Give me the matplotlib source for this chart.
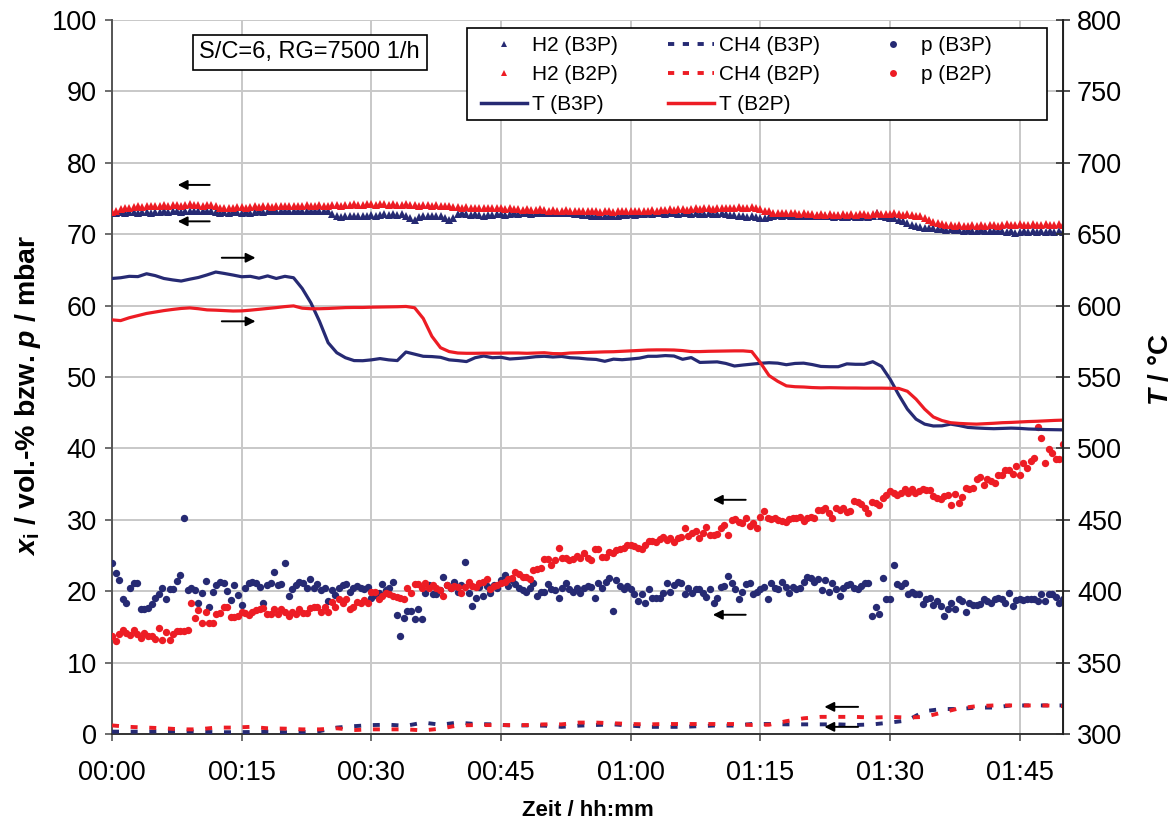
import numpy as np
import matplotlib
matplotlib.use('Agg')
import matplotlib.pyplot as plt
from matplotlib.lines import Line2D
from matplotlib.patches import Rectangle

plt.rcParams['font.family'] = ['Liberation Sans', 'DejaVu Sans']
plt.rcParams['mathtext.fontset'] = 'custom'
plt.rcParams['mathtext.rm'] = 'Liberation Sans'
plt.rcParams['mathtext.it'] = 'Liberation Sans:italic'
plt.rcParams['mathtext.bf'] = 'Liberation Sans:bold'
plt.rcParams['mathtext.bfit'] = 'Liberation Sans:italic:bold'

BLUE = '#262A73'
RED = '#ED1C24'

# ---------------- data ----------------
x_ticks_min = [0, 15, 30, 45, 60, 75, 90, 105]
x_tick_labels = ['00:00', '00:15', '00:30', '00:45', '01:00', '01:15', '01:30', '01:45']
x_max = 110

# H2 in vol.-%, every 0.5 min
h2_b2p = [73.1, 73.3, 73.5, 73.6, 73.7, 73.8, 73.9, 73.8, 73.9, 74.0,
          73.9, 74.0, 74.1, 74.0, 74.1, 74.1, 74.0, 74.1, 74.2, 74.1,
          74.1, 74.0, 74.1, 74.1, 74.0, 73.7, 73.6, 73.7, 73.7, 73.8,
          73.8, 73.7, 73.8, 73.9, 73.8, 73.9, 73.9, 73.8, 73.9, 74.0,
          73.9, 74.0, 74.0, 73.9, 74.0, 74.1, 74.0, 74.0, 74.1, 74.0,
          74.0, 74.1, 74.1, 74.0, 74.1, 74.1, 74.2, 74.1, 74.1, 74.2,
          74.2, 74.1, 74.2, 74.2, 74.1, 74.2, 74.1, 74.1, 74.2, 74.1,
          74.1, 74.0, 74.1, 74.1, 74.0, 74.1, 73.9, 74.0, 73.9, 73.8,
          73.8, 73.7, 73.8, 73.7, 73.7, 73.6, 73.7, 73.6, 73.6, 73.7,
          73.6, 73.5, 73.6, 73.5, 73.5, 73.4, 73.5, 73.4, 73.4, 73.5,
          73.4, 73.3, 73.4, 73.3, 73.3, 73.4, 73.3, 73.3, 73.2, 73.3,
          73.2, 73.3, 73.2, 73.1, 73.2, 73.2, 73.1, 73.2, 73.2, 73.3,
          73.2, 73.3, 73.3, 73.2, 73.3, 73.4, 73.3, 73.4, 73.4, 73.5,
          73.4, 73.5, 73.5, 73.4, 73.5, 73.6, 73.5, 73.6, 73.6, 73.5,
          73.6, 73.7, 73.6, 73.7, 73.7, 73.8, 73.7, 73.7, 73.8, 73.6,
          73.5, 73.3, 73.2, 73.0, 73.0, 72.9, 73.0, 72.9, 72.9, 72.8,
          72.9, 72.8, 72.8, 72.7, 72.8, 72.7, 72.8, 72.7, 72.7, 72.8,
          72.7, 72.8, 72.7, 72.8, 72.8, 72.7, 72.8, 72.9, 72.8, 72.8,
          72.8, 72.9, 72.8, 72.7, 72.8, 72.7, 72.6, 72.5, 72.3, 72.0,
          71.7, 71.5, 71.4, 71.3, 71.3, 71.2, 71.3, 71.2, 71.2, 71.3,
          71.2, 71.3, 71.2, 71.3, 71.3, 71.2, 71.3, 71.4, 71.3, 71.3,
          71.4, 71.3, 71.3, 71.4, 71.3, 71.3, 71.4, 71.3, 71.3, 71.4,
          71.3]
h2_b3p = [73.0, 73.0, 73.1, 73.0, 73.1, 73.1, 73.0, 73.1, 73.1, 73.0,
          73.1, 73.1, 73.2, 73.1, 73.2, 73.2, 73.1, 73.2, 73.2, 73.3,
          73.2, 73.3, 73.2, 73.2, 73.1, 73.0, 73.1, 73.0, 73.1, 73.1,
          73.0, 73.1, 73.0, 73.1, 73.2, 73.1, 73.2, 73.2, 73.3, 73.2,
          73.3, 73.2, 73.3, 73.2, 73.3, 73.3, 73.2, 73.3, 73.2, 73.3,
          73.3, 72.8, 72.5, 72.4, 72.5, 72.6, 72.5, 72.6, 72.5, 72.6,
          72.7, 72.6, 72.7, 72.8, 72.7, 72.8, 72.7, 72.8, 72.5, 72.2,
          72.0, 72.4, 72.6, 72.6, 72.5, 72.6, 72.5, 72.2, 72.0, 72.3,
          72.8, 72.9, 72.8, 72.7, 72.8, 72.7, 72.6, 72.7, 72.7, 72.8,
          72.8, 72.7, 72.8, 72.9, 72.8, 72.9, 72.9, 72.8, 72.9, 72.9,
          72.9, 73.0, 72.9, 73.0, 73.0, 72.9, 72.9, 72.8, 72.8, 72.7,
          72.7, 72.6, 72.6, 72.5, 72.6, 72.6, 72.5, 72.6, 72.7, 72.7,
          72.8, 72.7, 72.8, 72.8, 72.9, 72.8, 72.9, 72.9, 72.8, 72.9,
          72.9, 72.8, 72.9, 72.9, 72.8, 72.9, 72.8, 72.8, 72.9, 72.8,
          72.8, 72.9, 72.8, 72.7, 72.7, 72.6, 72.5, 72.4, 72.5, 72.4,
          72.2, 72.2, 72.4, 72.6, 72.7, 72.6, 72.7, 72.6, 72.5, 72.6,
          72.5, 72.6, 72.5, 72.5, 72.6, 72.5, 72.5, 72.4, 72.5, 72.4,
          72.4, 72.5, 72.4, 72.4, 72.5, 72.4, 72.6, 73.0, 72.6, 72.4,
          72.2, 72.2, 72.0, 71.8, 71.5, 71.3, 71.1, 71.0, 70.9, 70.8,
          70.8, 70.7, 70.7, 70.6, 70.7, 70.6, 70.6, 70.5, 70.6, 70.5,
          70.5, 70.6, 70.5, 70.5, 70.4, 70.5, 70.4, 70.3, 70.4, 70.2,
          70.3, 70.4, 70.3, 70.4, 70.3, 70.4, 70.3, 70.4, 70.3, 70.4,
          70.3]

# CH4 in vol.-%, every 2 min
ch4_b3p = [0.33, 0.33, 0.33, 0.4, 0.4, 0.33, 0.25, 0.25, 0.28, 0.33,
           0.25, 0.25, 0.4, 0.9, 1.1, 1.25, 1.3, 1.15, 1.6, 1.3,
           1.6, 1.4, 1.35, 1.2, 1.2, 1.17, 1.0, 1.17, 1.26, 1.35,
           1.17, 1.0, 1.0, 1.0, 1.1, 1.2, 1.17, 1.4, 1.4, 1.35,
           1.35, 1.35, 1.35, 1.26, 1.35, 1.6, 1.9, 3.2, 3.5, 3.5,
           3.7, 3.7, 4.0, 4.0, 4.0, 4.0]
ch4_b2p = [1.2, 1.0, 0.9, 0.8, 0.65, 0.65, 0.9, 0.9, 1.0, 0.8,
           0.75, 0.65, 0.65, 0.8, 0.55, 0.65, 0.65, 0.65, 0.5, 0.75,
           1.2, 1.25, 1.25, 1.25, 1.25, 1.35, 1.35, 1.6, 1.6, 1.5,
           1.4, 1.35, 1.4, 1.4, 1.4, 1.4, 1.4, 1.26, 1.3, 1.8,
           2.2, 2.4, 2.4, 2.4, 2.3, 2.4, 2.3, 2.4, 3.0, 3.6,
           3.9, 4.0, 4.0, 4.0, 4.0, 3.9]

# pressure in mbar, evenly sampled over 0..110 min
p_b3p = [23.9, 22.6, 21.6, 18.9, 18.3, 20.5, 21.2, 21.2, 17.5, 17.5, 17.6, 18.2, 19.1, 19.6,
         20.5, 18.9, 20.3, 20.3, 21.4, 22.3, 30.2, 20.2, 20.5, 20.2, 18.4, 19.7, 21.4, 17.8,
         19.9, 20.8, 21.3, 21.2, 20.0, 18.8, 20.9, 19.5, 18.1, 20.5, 21.1, 21.3, 21.2, 20.6,
         18.4, 20.9, 21.2, 22.7, 20.9, 21.0, 24.0, 19.3, 20.3, 20.8, 21.3, 21.2, 20.5, 21.7,
         20.5, 21.0, 20.2, 20.5, 18.6, 20.2, 19.4, 20.5, 20.8, 21.0, 19.9, 20.5, 20.7, 20.4,
         20.3, 20.6, 19.1, 19.5, 19.7, 21.0, 20.2, 20.5, 21.3, 16.7, 13.7, 16.2, 17.2, 17.2,
         16.1, 17.5, 16.1, 19.8, 20.9, 19.6, 19.6, 20.2, 22.0, 20.9, 20.5, 21.3, 19.9, 20.9,
         24.1, 19.8, 17.9, 19.0, 20.6, 19.3, 20.7, 19.7, 20.9, 20.4, 21.5, 22.2, 20.7, 21.5,
         21.0, 20.4, 20.1, 19.9, 20.4, 21.2, 19.3, 19.9, 19.9, 21.0, 20.3, 20.1, 19.0, 20.5,
         21.2, 20.3, 19.9, 20.5, 19.8, 20.5, 20.7, 20.6, 19.0, 21.2, 20.5, 21.3, 21.9, 17.2,
         21.6, 20.7, 20.3, 20.7, 20.3, 19.6, 18.6, 19.6, 18.3, 20.3, 19.0, 19.0, 19.0, 19.8,
         21.2, 19.9, 20.9, 21.3, 21.2, 19.6, 20.5, 19.8, 20.3, 20.3, 19.8, 19.2, 20.3, 18.3,
         19.0, 20.6, 20.7, 22.1, 21.2, 20.3, 18.9, 19.9, 21.0, 21.2, 19.6, 19.9, 20.3, 20.6,
         18.9, 21.2, 20.5, 20.3, 21.3, 20.6, 19.8, 20.6, 20.3, 20.5, 21.3, 22.0, 21.9, 21.3,
         21.7, 20.2, 21.6, 19.9, 21.2, 20.3, 19.3, 20.5, 20.9, 21.0, 20.5, 20.3, 20.7, 21.2,
         21.2, 16.5, 17.8, 16.8, 21.9, 18.9, 18.9, 23.7, 21.0, 20.7, 21.2, 19.6, 19.9, 19.6,
         19.6, 18.2, 18.9, 19.0, 18.1, 18.6, 17.9, 16.5, 17.5, 18.3, 17.5, 18.9, 18.6, 17.1,
         18.4, 18.1, 18.1, 18.2, 18.9, 18.6, 18.3, 18.9, 19.0, 18.9, 18.4, 19.8, 17.9, 18.7,
         18.9, 18.8, 18.9, 18.9, 18.9, 18.6, 19.6, 18.6, 19.6, 19.6, 19.2, 18.3, 18.9]
p_b2p = [13.7, 13.0, 14.0, 14.5, 14.2, 13.8, 14.5, 14.0, 13.5, 14.1, 13.7, 13.7, 13.3, 14.9,
         13.1, 14.3, 13.1, 14.0, 14.4, 14.4, 14.4, 14.5, 18.4, 16.2, 17.4, 15.5, 17.1, 15.5,
         15.6, 16.8, 16.9, 17.8, 17.8, 16.4, 16.4, 16.5, 17.1, 16.9, 16.7, 17.1, 17.4, 17.5,
         17.6, 16.8, 16.8, 17.5, 16.8, 17.5, 17.1, 16.5, 17.1, 16.8, 17.5, 16.9, 16.9, 17.7,
         17.8, 17.8, 17.1, 17.8, 17.1, 18.5, 17.8, 18.9, 18.3, 18.9, 17.5, 17.8, 18.5, 18.3,
         18.8, 18.4, 19.9, 19.9, 18.9, 19.3, 19.8, 19.6, 19.3, 19.2, 19.1, 18.9, 20.5, 19.7,
         21.0, 21.0, 20.5, 21.2, 20.5, 20.8, 20.5, 20.1, 19.3, 20.8, 20.4, 20.7, 20.6, 19.8,
         20.6, 21.3, 20.7, 20.6, 21.2, 21.3, 21.7, 20.3, 20.7, 20.9, 21.2, 21.3, 21.7, 21.9,
         22.7, 22.4, 22.0, 22.0, 21.7, 22.9, 23.1, 23.2, 24.5, 24.5, 23.7, 24.4, 26.1, 24.6,
         24.7, 24.4, 24.5, 24.9, 24.7, 25.4, 24.6, 24.3, 25.9, 25.9, 24.8, 24.8, 25.5, 25.4,
         25.8, 25.9, 26.0, 26.5, 26.5, 26.3, 26.0, 25.9, 26.5, 27.1, 27.1, 26.9, 27.3, 27.6,
         27.2, 27.5, 26.9, 27.5, 27.6, 28.9, 27.8, 28.1, 28.5, 27.5, 28.2, 29.0, 27.9, 27.9,
         28.0, 28.8, 29.3, 27.9, 30.0, 30.1, 29.7, 29.6, 30.2, 29.1, 29.6, 28.8, 30.4, 31.3,
         30.3, 30.1, 30.3, 30.0, 29.9, 29.7, 30.1, 30.2, 30.3, 30.4, 29.9, 30.3, 30.4, 30.2,
         31.4, 31.4, 31.6, 31.0, 30.3, 31.7, 31.4, 31.6, 31.1, 31.3, 32.6, 32.5, 32.2, 31.7,
         30.9, 32.5, 32.4, 32.1, 33.0, 33.5, 34.1, 33.7, 33.5, 33.8, 34.3, 33.8, 34.3, 33.8,
         34.1, 34.3, 34.2, 34.2, 33.3, 33.1, 32.9, 33.3, 33.5, 32.1, 33.6, 32.4, 33.2, 34.4,
         34.3, 34.4, 35.7, 36.0, 34.9, 35.7, 35.5, 35.2, 36.3, 36.3, 37.0, 37.0, 36.4, 37.5,
         36.3, 38.0, 37.3, 38.3, 38.6, 43.0, 41.5, 38.0, 39.9, 39.4, 38.5, 38.5, 40.6]

# temperature in degC, every 1 min
t_b3p = [619, 619.5, 620.5, 620.3, 622.3, 621, 619, 618, 617.2, 618.5,
         619.7, 621.5, 623.5, 622.5, 621.4, 620.2, 620.5, 619.2, 620.8, 619,
         620.5, 619.5, 612, 602, 589, 574, 567, 563.5, 561.5, 561.4,
         562, 562.9, 562, 561.5, 567.5, 566, 564.5, 564.3, 563.8, 562,
         561.5, 560.8, 563.5, 564.7, 563.5, 563.8, 562.6, 563, 563.5, 564.2,
         564.5, 564, 564.4, 563.5, 563.2, 562.6, 562.3, 561, 562.5, 562.1,
         562.6, 563.2, 564.5, 564.5, 565, 564.7, 562.4, 563.6, 560.2, 560.4,
         560.6, 559.5, 557.7, 558.4, 559, 559.6, 560, 559.7, 558.6, 559.5,
         559.7, 558.7, 557.4, 557.2, 557.2, 559.2, 558.9, 558.9, 560.7, 557.5,
         548.5, 537.5, 527.5, 520.5, 517, 515.7, 515.8, 517, 516, 514.7,
         514.3, 514, 513.8, 514, 514.2, 514, 513.6, 513.4, 513.2, 513.1,
         513]
t_b2p = [590, 589.5, 591.5, 593, 594.5, 595.5, 596.5, 597.3, 598, 598.4,
         597.8, 597, 596.8, 596.5, 596.2, 596.3, 596.8, 597.4, 598, 598.6,
         599.3, 599.8, 598.2, 597.8, 597.8, 598, 598.3, 598.6, 598.7, 598.7,
         598.9, 599, 599.1, 599.2, 599.4, 598.5, 591, 578.5, 570.5, 567.8,
         566.8, 566.6, 566.6, 566.7, 566.7, 566.7, 566.8, 566.8, 566.6, 566.8,
         567, 566.4, 566.3, 566.8, 567, 567.2, 567.4, 567.6, 567.7, 568,
         568.3, 568.6, 568.9, 569, 569, 568.9, 568.5, 567.8, 567.8, 568,
         568.1, 568.2, 568.3, 568.3, 567.8, 560, 551, 547, 543.8, 543.2,
         543, 542.6, 542.4, 542.5, 542.4, 542.3, 542.3, 542.2, 542.2, 542.2,
         542.1, 542, 540, 534.5, 527.5, 522, 519.5, 518, 517.5, 517.2,
         517, 517.3, 517.6, 518, 518.2, 518.5, 518.8, 519, 519.3, 519.6,
         519.8]

# annotation arrows: (x_start_min, x_end_min, y_left_axis)
arrows = [(11.3, 7.6, 76.9), (11.3, 7.6, 71.8), (12.7, 16.6, 66.7), (12.7, 16.6, 57.8),
          (73.3, 69.5, 32.8), (73.3, 69.5, 16.7), (86.3, 82.4, 3.8), (86.3, 82.4, 1.0)]

# ---------------- plot ----------------
fig = plt.figure(figsize=(11.75, 8.26), dpi=100)
ax = fig.add_axes([112 / 1175, 1 - 734 / 826, (1063 - 112) / 1175, (734 - 20) / 826])
ax2 = ax.twinx()

t_h2 = np.arange(len(h2_b3p)) * 0.5
t_ch4 = np.arange(len(ch4_b3p)) * 2.0
t_T = np.arange(len(t_b3p)) * 1.0
t_p3 = np.linspace(0, x_max, len(p_b3p))
t_p2 = np.linspace(0, x_max, len(p_b2p))

ax.plot(t_ch4, ch4_b3p, color=BLUE, lw=2.8, dashes=(1.8, 3.0), zorder=3)
ax.plot(t_ch4, ch4_b2p, color=RED, lw=2.8, dashes=(1.8, 3.0), zorder=3)
ax.plot(t_p3, p_b3p, 'o', color=BLUE, ms=5.3, mew=0, zorder=4)
ax.plot(t_p2, p_b2p, 'o', color=RED, ms=5.3, mew=0, zorder=4)
ax.plot(t_h2, h2_b3p, '^', color=BLUE, ms=5.2, mew=0, zorder=4)
ax.plot(t_h2, h2_b2p, '^', color=RED, ms=5.2, mew=0, zorder=4)

ax2.plot(t_T, t_b3p, color=BLUE, lw=2.3)
ax2.plot(t_T, t_b2p, color=RED, lw=2.3)

for xs, xe, yv in arrows:
    ax.annotate('', xy=(xe, yv), xytext=(xs, yv),
                arrowprops=dict(arrowstyle='-|>', color='black', lw=1.4,
                                mutation_scale=14, shrinkA=0, shrinkB=0), zorder=6)

ax.set_xlim(0, x_max)
ax.set_ylim(0, 100)
ax2.set_ylim(300, 800)
ax.set_xticks(x_ticks_min)
ax.set_xticklabels(x_tick_labels)
ax.set_yticks(np.arange(0, 101, 10))
ax2.set_yticks(np.arange(300, 801, 50))
ax.grid(True, color='#c8c8c8', lw=1.4)
ax.set_axisbelow(True)

ax.tick_params(axis='y', labelsize=19.5, length=5, width=1.2, color='#555555', pad=6)
ax.tick_params(axis='x', labelsize=19.5, length=5, width=1.2, color='#555555', pad=14)
ax2.tick_params(axis='y', labelsize=19.5, length=10, width=1.2, direction='inout',
                color='#333333', pad=5)
ax.spines['top'].set_visible(False)
ax2.spines['top'].set_visible(False)
ax.spines['left'].set_color('#555555')
ax.spines['left'].set_linewidth(1.4)
ax.spines['bottom'].set_color('#333333')
ax.spines['bottom'].set_linewidth(1.4)
ax2.spines['right'].set_color('#222222')
ax2.spines['right'].set_linewidth(1.4)
ax2.spines['left'].set_visible(False)
ax2.spines['bottom'].set_visible(False)

ax.set_xlabel('Zeit / hh:mm', fontsize=16, fontweight='bold', labelpad=10)
ax.set_ylabel(r'$\mathbfit{x}_{\mathbf{i}}$ / vol.-% bzw. $\mathbfit{p}$ / mbar',
              fontsize=20.5, fontweight='bold')
ax.yaxis.set_label_coords(-0.0726, 0.475)
ax2.set_ylabel(r'$\mathbfit{T}$ / °C', fontsize=20, fontweight='bold')
ax2.yaxis.set_label_coords(1.089, 0.51)

ax2.text(0.092, 0.955, 'S/C=6, RG=7500 1/h', transform=ax2.transAxes, fontsize=17,
         va='center', ha='left',
         bbox=dict(boxstyle='square,pad=0.28', fc='white', ec='black', lw=1.2))

# legend frame (Excel-style box wider than its entries)
ax2.add_patch(Rectangle((355 / 951, 614 / 714), 580 / 951, 92 / 714,
                        transform=ax2.transAxes, fc='white', ec='black', lw=1.2, zorder=4))

handles = [
    Line2D([], [], ls='none', marker='^', color=BLUE, ms=5, mew=0),
    Line2D([], [], ls='none', marker='^', color=RED, ms=5, mew=0),
    Line2D([], [], color=BLUE, lw=2.5),
    Line2D([], [], color=BLUE, lw=2.8, dashes=(1.6, 2.2)),
    Line2D([], [], color=RED, lw=2.8, dashes=(1.6, 2.2)),
    Line2D([], [], color=RED, lw=2.5),
    Line2D([], [], ls='none', marker='o', color=BLUE, ms=5, mew=0),
    Line2D([], [], ls='none', marker='o', color=RED, ms=5, mew=0),
]
labels = ['H2 (B3P)', 'H2 (B2P)', 'T (B3P)', 'CH4 (B3P)', 'CH4 (B2P)', 'T (B2P)',
          'p (B3P)', 'p (B2P)']
leg = ax2.legend(handles, labels, ncol=3, loc='upper left',
                 bbox_to_anchor=(369 / 951, 698 / 714),
                 fontsize=15, frameon=False,
                 handlelength=2.2, handletextpad=0.25, columnspacing=2.4,
                 labelspacing=0.5, borderpad=0, borderaxespad=0)
leg.set_zorder(5)

fig.savefig('out.png', dpi=100)
